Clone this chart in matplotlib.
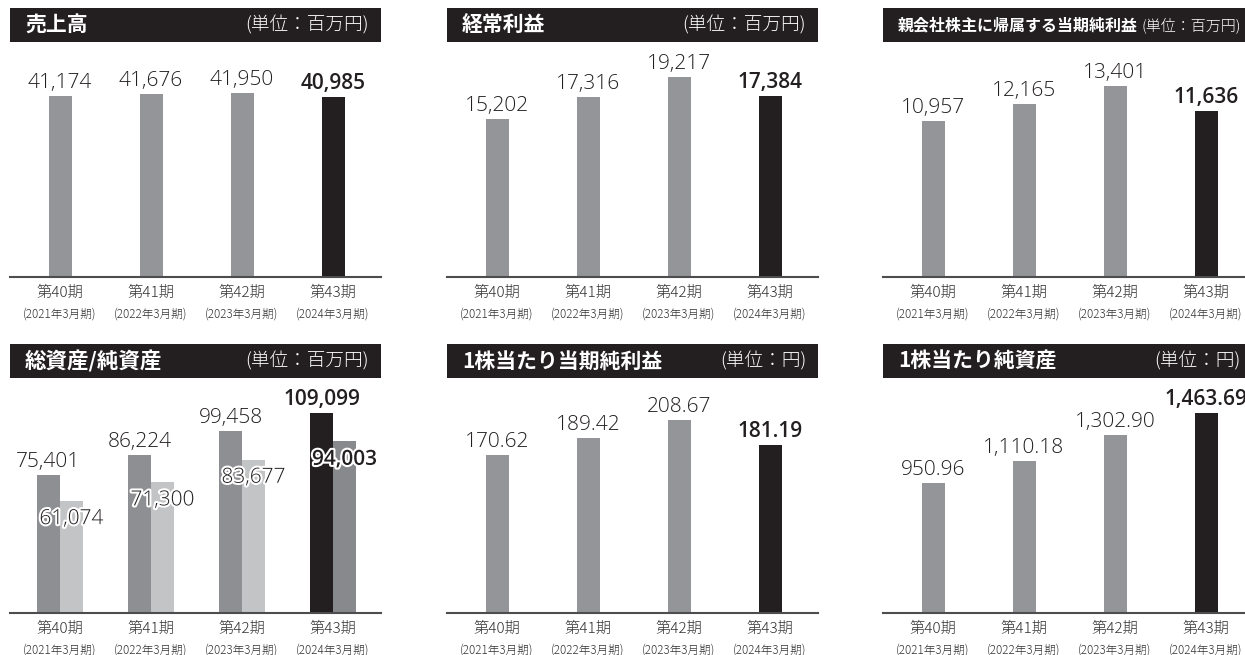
import matplotlib
matplotlib.use('Agg')
import matplotlib.pyplot as plt
import matplotlib.patheffects as pe
from matplotlib.patches import Rectangle

plt.rcParams['font.family'] = ['Noto Sans CJK JP', 'DejaVu Sans']
NUM_FONT = ['Open Sans', 'DejaVu Sans']

# data
categories = ['第40期', '第41期', '第42期', '第43期']
periods = ['(2021年3月期)', '(2022年3月期)', '(2023年3月期)', '(2024年3月期)']
sales = [41174, 41676, 41950, 40985]
ordinary_profit = [15202, 17316, 19217, 17384]
net_income = [10957, 12165, 13401, 11636]
total_assets = [75401, 86224, 99458, 109099]
net_assets = [61074, 71300, 83677, 94003]
eps = [170.62, 189.42, 208.67, 181.19]
bps = [950.96, 1110.18, 1302.90, 1463.69]

GRAY = '#939598'
DARK = '#231f20'
MID = '#8e8f92'
LIGHT = '#c3c4c6'
TXT = '#231f20'

W, H = 1245, 655
fig = plt.figure(figsize=(W / 100, H / 100), dpi=100)

PANEL_W = 371
UNIT = 91.0  # pixels per category


def title_bar(left, top, title, unit, tsize=15, usize=13.4, uright=None):
    h = 34
    fig.add_artist(Rectangle((left / W, 1 - (top + h) / H), PANEL_W / W, h / H,
                             transform=fig.transFigure, color=DARK, lw=0))
    yc = 1 - (top + h / 2) / H
    fig.text((left + 15) / W, yc, title, color='white', fontsize=tsize,
             fontweight='bold', ha='left', va='center')
    if uright is None:
        uright = left + PANEL_W - 12
    fig.text(uright / W, yc, unit, color='white', fontsize=usize,
             fontweight='light', ha='right', va='center')


def make_axes(left, base, top, scale):
    ax = fig.add_axes([left / W, 1 - base / H, PANEL_W / W, (base - top) / H])
    ax.set_xlim(-50 / UNIT, (PANEL_W - 50) / UNIT)
    ax.set_ylim(0, scale * (base - top))
    for s in ['top', 'right', 'left']:
        ax.spines[s].set_visible(False)
    ax.spines['bottom'].set_color('#4d4d4d')
    ax.spines['bottom'].set_linewidth(1.5)
    ax.set_xticks([])
    ax.set_yticks([])
    ax.patch.set_alpha(0)
    for i, (c, p) in enumerate(zip(categories, periods)):
        ax.annotate(c, xy=(i, 0), xycoords=('data', 'axes fraction'),
                    xytext=(0, -16), textcoords='offset pixels', ha='center',
                    va='center', fontsize=11, color='#333333',
                    fontweight='light', annotation_clip=False)
        ax.annotate(p, xy=(i, 0), xycoords=('data', 'axes fraction'),
                    xytext=(0, -37), textcoords='offset pixels', ha='center',
                    va='center', fontsize=8.4, color='#333333',
                    fontweight='light', annotation_clip=False)
    return ax


def value_label(ax, text, x, y, dy, va, bold, effects=None):
    ax.annotate(text, xy=(x, y), xytext=(0, dy), textcoords='offset pixels',
                ha='center', va=va, fontsize=15, color=TXT, family=NUM_FONT,
                fontweight='semibold' if bold else 'light',
                path_effects=effects, annotation_clip=False)


def single_bars(ax, values, fmt):
    colors = [GRAY] * (len(values) - 1) + [DARK]
    x = list(range(len(values)))
    ax.bar(x, values, width=23 / UNIT, color=colors)
    for i, v in enumerate(values):
        value_label(ax, fmt.format(v), i, v, 8, 'baseline', i == len(values) - 1)


TOP_BASE, TOP_TOP = 277, 50
BOT_BASE, BOT_TOP = 613, 386
COLS = [10, 447, 883]

# 売上高
title_bar(COLS[0], 8, '売上高', '(単位：百万円)')
ax1 = make_axes(COLS[0], TOP_BASE, TOP_TOP, 227.5)
single_bars(ax1, sales, '{:,.0f}')

# 経常利益
title_bar(COLS[1], 8, '経常利益', '(単位：百万円)')
ax2 = make_axes(COLS[1], TOP_BASE, TOP_TOP, 96.1)
single_bars(ax2, ordinary_profit, '{:,.0f}')

# 親会社株主に帰属する当期純利益
title_bar(COLS[2], 8, '親会社株主に帰属する当期純利益', '(単位：百万円)',
          tsize=11.5, usize=10.8, uright=1241)
ax3 = make_axes(COLS[2], TOP_BASE, TOP_TOP, 70.2)
single_bars(ax3, net_income, '{:,.0f}')

# 総資産/純資産
title_bar(COLS[0], 344, '総資産/純資産', '(単位：百万円)', tsize=15.5)
ax4 = make_axes(COLS[0], BOT_BASE, BOT_TOP, 546)
off = 11.5 / UNIT
bw = 23 / UNIT
n = len(total_assets)
x = list(range(n))
ax4.bar([i - off for i in x], total_assets, width=bw,
        color=[MID] * (n - 1) + [DARK])
ax4.bar([i + off for i in x], net_assets, width=bw,
        color=[LIGHT] * (n - 1) + ['#88898c'])
stroke = [pe.withStroke(linewidth=3, foreground='white')]
for i in x:
    last = i == n - 1
    value_label(ax4, '{:,.0f}'.format(total_assets[i]), i - off,
                total_assets[i], 8, 'baseline', last)
    value_label(ax4, '{:,.0f}'.format(net_assets[i]), i + off,
                net_assets[i], -8, 'top', last, stroke)

# 1株当たり当期純利益
title_bar(COLS[1], 344, '1株当たり当期純利益', '(単位：円)')
ax5 = make_axes(COLS[1], BOT_BASE, BOT_TOP, 1.081)
single_bars(ax5, eps, '{:,.2f}')

# 1株当たり純資産
title_bar(COLS[2], 344, '1株当たり純資産', '(単位：円)', uright=1241)
ax6 = make_axes(COLS[2], BOT_BASE, BOT_TOP, 7.32)
single_bars(ax6, bps, '{:,.2f}')

fig.savefig('out.png', dpi=100)
